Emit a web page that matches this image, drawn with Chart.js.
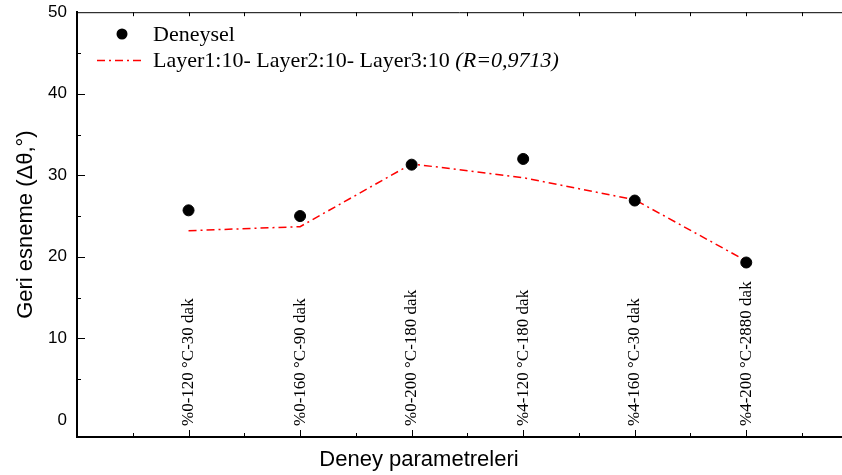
<!DOCTYPE html>
<html>
<head>
<meta charset="utf-8">
<script src="https://cdn.jsdelivr.net/npm/chart.js@4.4.1/dist/chart.umd.min.js"></script>
<style>
  html, body { margin: 0; padding: 0; background: #fff; }
  #wrap { width: 842px; height: 475px; }
</style>
</head>
<body>
<div id="wrap"><canvas id="chart" width="842" height="475"></canvas></div>
<script>
const categories = ['%0-120 °C-30 dak', '%0-160 °C-90 dak', '%0-200 °C-180 dak',
                    '%4-120 °C-180 dak', '%4-160 °C-30 dak', '%4-200 °C-2880 dak'];
const deneysel = [25.7, 25.0, 31.3, 32.0, 26.9, 19.3];
const model = [23.2, 23.7, 31.4, 29.7, 27.0, 19.5];
const yTicks = [0, 10, 20, 30, 40, 50];
const legendDots = 'Deneysel';
const legendLine = 'Layer1:10- Layer2:10- Layer3:10 ';
const legendR = '(R=0,9713)';
const xTitle = 'Deney parametreleri';

const SERIF = '"Liberation Serif", "Times New Roman", serif';
const SANS = '"Liberation Sans", Arial, sans-serif';

// inward ticks, top border, rotated category labels, x title and the legend
const decorations = {
    id: 'decorations',
    afterDraw(chart) {
        const { ctx, chartArea: a, scales: { x, y } } = chart;
        ctx.save();
        ctx.strokeStyle = '#000';
        ctx.lineWidth = 1;

        ctx.beginPath();
        ctx.moveTo(a.left, a.top + 0.5);
        ctx.lineTo(chart.width, a.top + 0.5);
        ctx.stroke();

        // the frame runs off the right edge of the picture
        ctx.lineWidth = 2;
        ctx.beginPath();
        ctx.moveTo(a.right - 1, a.bottom);
        ctx.lineTo(chart.width, a.bottom);
        ctx.stroke();
        ctx.lineWidth = 1;

        for (let v = -0.5; x.getPixelForValue(v) < chart.width; v += 0.5) {
            const px = Math.round(x.getPixelForValue(v)) + 0.5;
            const major = Number.isInteger(v);
            ctx.beginPath();
            ctx.moveTo(px, a.bottom);
            ctx.lineTo(px, a.bottom - (major ? 7 : 4));
            ctx.moveTo(px, a.top);
            ctx.lineTo(px, a.top + 4);
            ctx.stroke();
        }

        for (let v = 5; v < 50; v += 5) {
            const py = Math.round(y.getPixelForValue(v)) + 0.5;
            const major = v % 10 === 0;
            ctx.beginPath();
            ctx.moveTo(a.left, py);
            ctx.lineTo(a.left + (major ? 8 : 4), py);
            ctx.stroke();
        }

        ctx.fillStyle = '#000';
        ctx.font = '17px ' + SERIF;
        ctx.textAlign = 'left';
        ctx.textBaseline = 'middle';
        categories.forEach((c, i) => {
            const px = x.getPixelForValue(i);
            ctx.save();
            ctx.translate(px, a.bottom - 11);
            ctx.rotate(-Math.PI / 2);
            ctx.fillText(c, 0, 0);
            ctx.restore();
        });

        ctx.font = '22px ' + SANS;
        ctx.textAlign = 'center';
        ctx.fillText(xTitle, 419, 460);

        // legend
        ctx.textAlign = 'left';
        ctx.font = '22px ' + SERIF;
        ctx.textBaseline = 'alphabetic';
        ctx.beginPath();
        ctx.arc(122, 34, 5.5, 0, Math.PI * 2);
        ctx.fill();
        ctx.fillText(legendDots, 153, 41);

        ctx.strokeStyle = '#ff0000';
        ctx.lineWidth = 1.5;
        ctx.setLineDash([8, 4, 2, 4]);
        ctx.beginPath();
        ctx.moveTo(97, 60.5);
        ctx.lineTo(143, 60.5);
        ctx.stroke();
        ctx.setLineDash([]);
        ctx.fillText(legendLine, 153, 67);
        const w = ctx.measureText(legendLine).width;
        ctx.font = 'italic 22px ' + SERIF;
        ctx.fillText(legendR, 153 + w, 67);
        ctx.restore();
    }
};

new Chart(document.getElementById('chart'), {
    type: 'scatter',
    data: {
        datasets: [
            {
                label: legendDots,
                data: deneysel.map((v, i) => ({ x: i, y: v })),
                backgroundColor: '#000',
                borderColor: '#000',
                pointRadius: 5.5,
                pointHoverRadius: 5.5,
                showLine: false,
                order: 1
            },
            {
                label: legendLine + legendR,
                data: model.map((v, i) => ({ x: i, y: v })),
                borderColor: '#ff0000',
                borderWidth: 1.5,
                borderDash: [8, 4, 2, 4],
                pointRadius: 0,
                showLine: true,
                fill: false,
                order: 2
            }
        ]
    },
    options: {
        responsive: false,
        animation: false,
        layout: { padding: { top: 5, right: 0, left: 0, bottom: 0 } },
        plugins: {
            legend: { display: false },
            tooltip: { enabled: false }
        },
        scales: {
            x: {
                type: 'linear',
                min: -1,
                max: 5.8,
                grid: { display: false },
                border: { display: true, color: '#000', width: 2 },
                ticks: { display: false },
                afterFit: s => { s.height = 38; }
            },
            y: {
                min: -2.1,
                max: 50,
                grid: { display: false },
                border: { display: true, color: '#000', width: 2 },
                afterBuildTicks: s => { s.ticks = yTicks.map(v => ({ value: v })); },
                afterFit: s => { s.width = 77; },
                ticks: {
                    color: '#000',
                    padding: 2,
                    font: { family: SANS, size: 17 }
                },
                title: {
                    display: true,
                    text: 'Geri esneme (Δθ,°)',
                    color: '#000',
                    font: { family: SANS, size: 22 },
                    padding: { top: 13, bottom: 0 }
                }
            }
        }
    },
    plugins: [decorations]
});
</script>
</body>
</html>
